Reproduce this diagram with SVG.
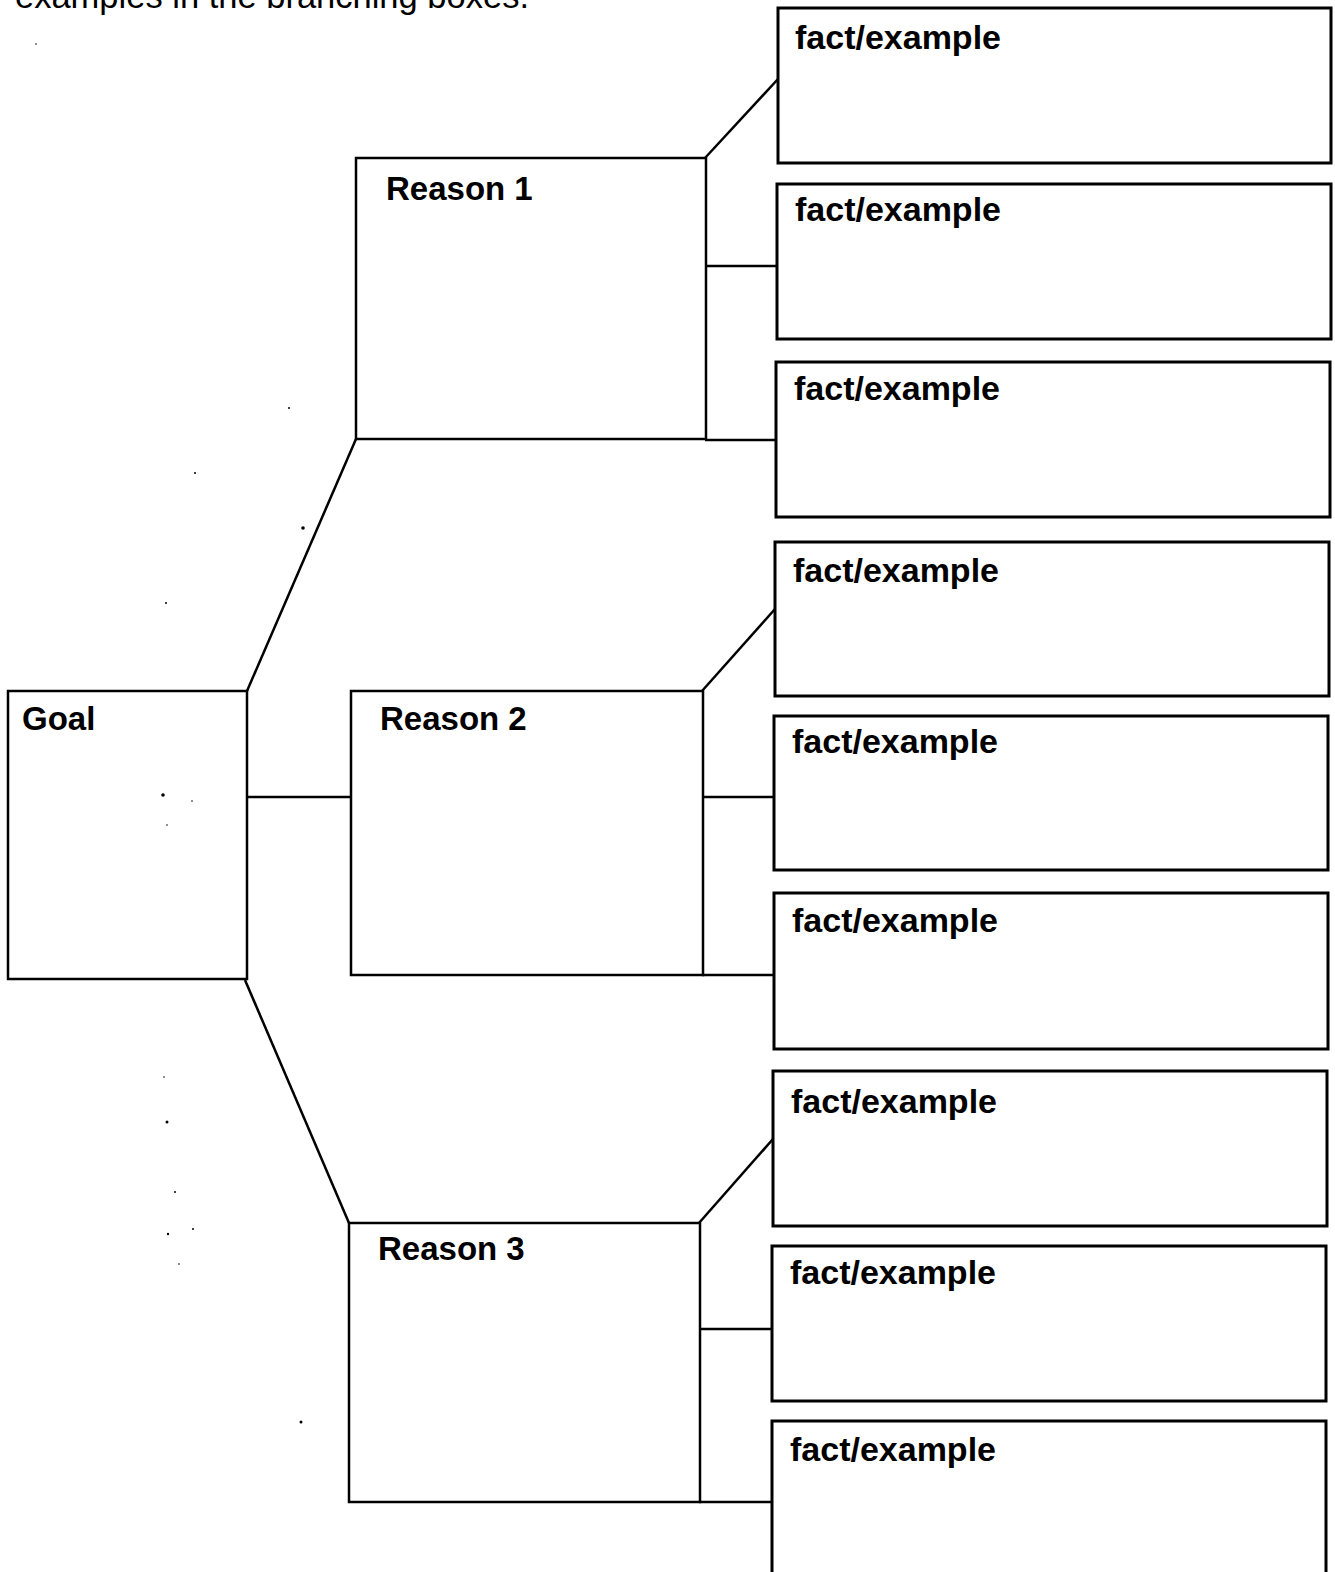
<svg xmlns="http://www.w3.org/2000/svg" width="1335" height="1572" viewBox="0 0 1335 1572">
<style>
.fact{fill:#fff;stroke:#000;stroke-width:3}
.reason{fill:#fff;stroke:#000;stroke-width:2.5}
.lbl{font-family:"Liberation Sans",Arial,sans-serif;font-weight:bold;font-size:33px;fill:#000}
.fl{font-size:34px}
.con{stroke:#000;stroke-width:2.5;fill:none}
.dot{fill:#000}
</style>
<rect width="1335" height="1572" fill="#fff"/>
<text x="15" y="8" font-family="'Liberation Sans',Arial,sans-serif" font-size="34.5" fill="#000">examples in the branching boxes.</text>
<g id="connectors">
<line class="con" x1="247" y1="691" x2="356" y2="439"/>
<line class="con" x1="246" y1="797" x2="351" y2="797"/>
<line class="con" x1="245" y1="980" x2="349" y2="1223"/>
<line class="con" x1="705" y1="158" x2="778" y2="79"/>
<line class="con" x1="705" y1="266" x2="777" y2="266"/>
<line class="con" x1="705" y1="440" x2="776" y2="440"/>
<line class="con" x1="702" y1="691" x2="775" y2="609"/>
<line class="con" x1="702" y1="797" x2="774" y2="797"/>
<line class="con" x1="702" y1="975" x2="774" y2="975"/>
<line class="con" x1="699" y1="1223" x2="773" y2="1139"/>
<line class="con" x1="699" y1="1329" x2="772" y2="1329"/>
<line class="con" x1="699" y1="1502" x2="772" y2="1502"/>
</g>
<g id="goal"><rect class="reason" x="8" y="691" width="239" height="288"/><text class="lbl" x="22" y="730">Goal</text></g>
<g id="reason1"><rect class="reason" x="356" y="158" width="350" height="281"/><text class="lbl" x="386" y="200">Reason 1</text></g>
<g id="reason2"><rect class="reason" x="351" y="691" width="352" height="284"/><text class="lbl" x="380" y="730">Reason 2</text></g>
<g id="reason3"><rect class="reason" x="349" y="1223" width="351" height="279"/><text class="lbl" x="378" y="1260">Reason 3</text></g>
<g id="fact1"><rect class="fact" x="778" y="8" width="553" height="155"/><text class="lbl fl" x="795" y="49">fact/example</text></g>
<g id="fact2"><rect class="fact" x="777" y="184" width="554" height="155"/><text class="lbl fl" x="795" y="221">fact/example</text></g>
<g id="fact3"><rect class="fact" x="776" y="362" width="554" height="155"/><text class="lbl fl" x="794" y="400">fact/example</text></g>
<g id="fact4"><rect class="fact" x="775" y="542" width="554" height="154"/><text class="lbl fl" x="793" y="582">fact/example</text></g>
<g id="fact5"><rect class="fact" x="774" y="716" width="554" height="154"/><text class="lbl fl" x="792" y="753">fact/example</text></g>
<g id="fact6"><rect class="fact" x="774" y="893" width="554" height="156"/><text class="lbl fl" x="792" y="932">fact/example</text></g>
<g id="fact7"><rect class="fact" x="773" y="1071" width="554" height="155"/><text class="lbl fl" x="791" y="1113">fact/example</text></g>
<g id="fact8"><rect class="fact" x="772" y="1246" width="554" height="155"/><text class="lbl fl" x="790" y="1284">fact/example</text></g>
<g id="fact9"><rect class="fact" x="772" y="1421" width="554" height="160"/><text class="lbl fl" x="790" y="1461">fact/example</text></g>
<g id="specks">
<circle class="dot" cx="36" cy="44" r="0.8"/>
<circle class="dot" cx="289" cy="408" r="1"/>
<circle class="dot" cx="195" cy="473" r="1"/>
<circle class="dot" cx="303" cy="528" r="1.8"/>
<circle class="dot" cx="166" cy="603" r="1"/>
<circle class="dot" cx="163" cy="795" r="1.8"/>
<circle class="dot" cx="192" cy="801" r="0.8"/>
<circle class="dot" cx="167" cy="825" r="0.8"/>
<circle class="dot" cx="164" cy="1077" r="0.8"/>
<circle class="dot" cx="167" cy="1122" r="1.5"/>
<circle class="dot" cx="175" cy="1192" r="1"/>
<circle class="dot" cx="168" cy="1234" r="1.2"/>
<circle class="dot" cx="193" cy="1229" r="1"/>
<circle class="dot" cx="179" cy="1264" r="0.8"/>
<circle class="dot" cx="301" cy="1422" r="1.5"/>
</g>
</svg>
